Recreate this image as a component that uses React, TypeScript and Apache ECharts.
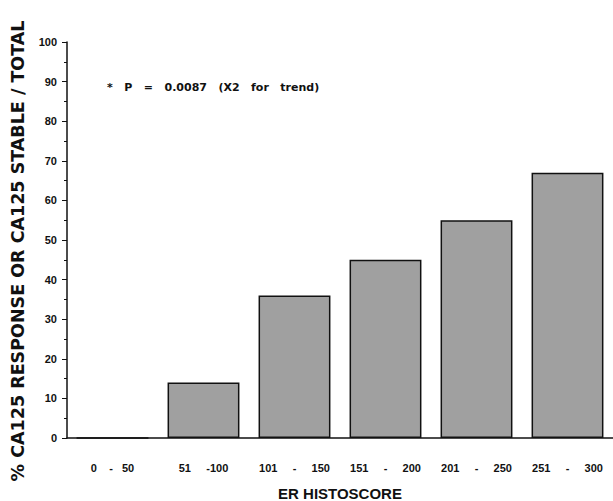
import React, { useEffect, useRef } from "react";
import * as echarts from "echarts";

const categories = ["0    -   50", "51     -100", "101     -     150", "151     -     200", "201     -     250", "251     -     300"];
const values = [0, 14, 36, 45, 55, 67];
const yTicks = [0, 10, 20, 30, 40, 50, 60, 70, 80, 90, 100];
const annotation = "*   P   =   0.0087   (X2   for   trend)";
const yTitle = "% CA125 RESPONSE OR CA125 STABLE / TOTAL";
const xTitle = "ER HISTOSCORE";

export default function App() {
  const ref = useRef<HTMLDivElement>(null);
  useEffect(() => {
    if (!ref.current) return;
    const chart = echarts.init(ref.current, undefined, { renderer: "svg" });
    chart.setOption({
      animation: false,
      grid: { left: 67, right: 0, top: 42, bottom: 63, containLabel: false, outerBoundsMode: "none" },
      xAxis: {
        type: "category",
        data: categories,
        axisLine: { lineStyle: { color: "#111", width: 1.5 } },
        axisTick: { show: false },
        axisLabel: {
          interval: 0,
          hideOverlap: false,
          fontFamily: "Liberation Sans, Arial",
          fontWeight: "bold",
          fontSize: 11,
          color: "#111",
          margin: 24,
        },
      },
      yAxis: {
        type: "value",
        min: yTicks[0],
        max: yTicks[yTicks.length - 1],
        interval: 10,
        axisLine: { show: true, lineStyle: { color: "#111", width: 1.5 } },
        axisTick: { show: true, length: 5, lineStyle: { color: "#111" } },
        minorTick: { show: true, splitNumber: 2, length: 3, lineStyle: { color: "#111" } },
        splitLine: { show: false },
        axisLabel: { fontFamily: "Liberation Sans, Arial", fontWeight: "bold", fontSize: 11, color: "#111", margin: 10 },
      },
      graphic: [
        {
          type: "text",
          left: 107,
          top: 82,
          style: { text: annotation, fontFamily: "DejaVu Sans", fontWeight: "bold", fontSize: 11, fill: "#111" },
        },
        {
          type: "text",
          x: 18,
          y: 251,
          rotation: Math.PI / 2,
          style: {
            text: yTitle,
            fontFamily: "DejaVu Sans",
            fontWeight: "bold",
            fontSize: 17.5,
            fill: "#111",
            align: "center",
            verticalAlign: "middle",
          },
        },
        {
          type: "text",
          x: 340,
          y: 493,
          style: {
            text: xTitle,
            fontFamily: "Liberation Sans, Arial",
            fontWeight: "bold",
            fontSize: 15,
            fill: "#111",
            align: "center",
            verticalAlign: "middle",
          },
        },
      ],
      series: [
        {
          type: "bar",
          data: values,
          barWidth: "79%",
          itemStyle: { color: "#a0a0a0", borderColor: "#111", borderWidth: 1.5 },
        },
      ],
    });
    return () => chart.dispose();
  }, []);
  return <div ref={ref} style={{ width: 613, height: 501, position: "absolute", left: 0, top: 0 }} />;
}
